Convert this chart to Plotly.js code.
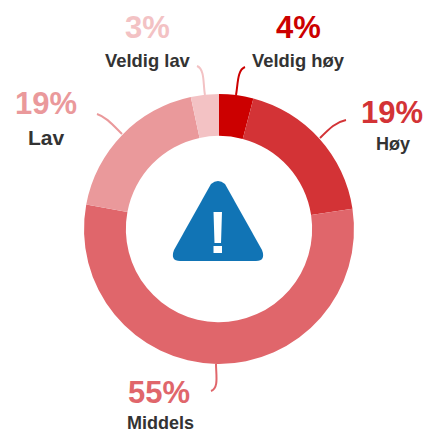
<!DOCTYPE html>
<html><head><meta charset="utf-8">
<script src="https://cdn.plot.ly/plotly-3.0.1.min.js"></script>
<style>html,body{margin:0;padding:0;background:#fff}#c{width:428px;height:433px}</style>
</head><body><div id="c"></div>
<script>
const categories = ['Veldig høy','Høy','Middels','Lav','Veldig lav'];
const values = [4.1,18.5,55.3,18.75,3.35];
const pctLabels = ['4%','19%','55%','19%','3%'];
const colors = ['#CC0000','#D33336','#E0666B','#EA999B','#F3C2C4'];
const pctX = [298,392,159,46,147];
const pctY = [28,112,392,104,28];
const nameX = [298,393,160,46,148];
const nameY = [60,144,423,137,60];
const nameSize = [18.4,18,18,21,18.4];
const leaders = [
 'M236 95 C238 85 237 70 245 67',
 'M320 138 C330 128 336 122 346 120',
 'M216 364 C216 375 219 388 211 391',
 'M122 134 C112 124 106 117 97 114',
 'M205 95 C203 85 205 69 197 66'
];
const W=428,H=433;
const px=x=>x/W, py=y=>1-y/H;
function ann(x,y,text,size,color){
  return {xref:'paper',yref:'paper',x:px(x),y:py(y),xanchor:'center',yanchor:'middle',showarrow:false,borderpad:0,
    text:text,font:{family:'Liberation Sans, Arial, sans-serif',size:size,color:color,weight:700}};
}
const annotations=[];
categories.forEach((c,i)=>{
  annotations.push(ann(pctX[i],pctY[i],'<b>'+pctLabels[i]+'</b>',31,colors[i]));
  annotations.push(ann(nameX[i],nameY[i],'<b>'+c+'</b>',nameSize[i],'#333333'));
});
const shapes=leaders.map((d,i)=>({type:'path',xref:'x',yref:'y',path:d,line:{color:colors[i],width:2},fillcolor:'rgba(0,0,0,0)'}));
shapes.push({type:'path',xref:'x',yref:'y',layer:'above',line:{width:0},fillcolor:'#1174B5',
  path:'M211 184 Q218 178 225 184 L262 250 Q266 261 256 261 L180 261 Q170 261 174 250 Z'});
shapes.push({type:'path',xref:'x',yref:'y',layer:'above',line:{width:0},fillcolor:'#FFFFFF',
  path:'M213.5 212 L222 212 L221 243 L214.5 243 Z'});
shapes.push({type:'rect',xref:'x',yref:'y',layer:'above',line:{width:0},fillcolor:'#FFFFFF',x0:213.5,x1:222,y0:246,y1:253});
Plotly.newPlot('c',[{
  type:'pie',labels:categories,values:values,sort:false,direction:'clockwise',rotation:0,hole:0.69,
  marker:{colors:colors,line:{width:0}},textinfo:'none',hoverinfo:'label+percent',showlegend:false,
  domain:{x:[84/W,354/W],y:[69/H,339/H]}
}],{
  width:W,height:H,margin:{l:0,r:0,t:0,b:0},paper_bgcolor:'#fff',plot_bgcolor:'rgba(0,0,0,0)',showlegend:false,
  xaxis:{range:[0,W],visible:false,fixedrange:true},yaxis:{range:[H,0],visible:false,fixedrange:true},
  annotations:annotations,shapes:shapes
},{displayModeBar:false,staticPlot:true});
</script></body></html>
